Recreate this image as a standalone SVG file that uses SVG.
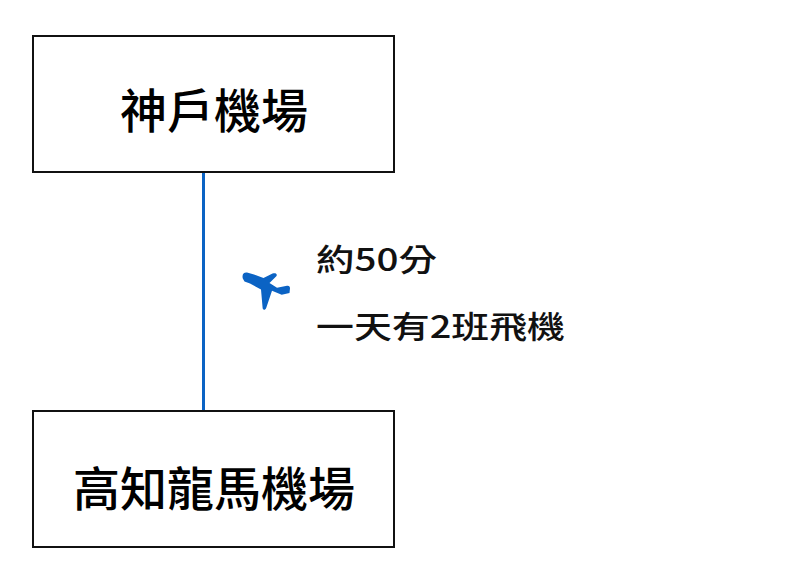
<svg xmlns="http://www.w3.org/2000/svg" width="800" height="584" viewBox="0 0 800 584">
<style>
.box{fill:#fff;stroke:#111;stroke-width:2}
.lbl{font-family:"Noto Sans CJK TC","Noto Sans CJK SC",sans-serif;font-size:47px;font-weight:500;fill:#000;text-anchor:middle}
.note{font-family:"Noto Sans CJK TC","Noto Sans CJK SC",sans-serif;font-size:31px;font-weight:500;fill:#111}
.conn{stroke:#0b63c4;stroke-width:3;fill:none}
</style>
<rect width="800" height="584" fill="#fff"/>
<g id="connectors">
<line class="conn" x1="203.5" y1="172" x2="203.5" y2="411"/>
</g>
<g id="node-kobe">
<rect class="box" x="33" y="36" width="361" height="136"/>
<text class="lbl" x="214" y="128">神戶機場</text>
</g>
<g id="node-kochi">
<rect class="box" x="33" y="411" width="361" height="136"/>
<text class="lbl" x="214" y="506">高知龍馬機場</text>
</g>
<g id="plane-icon">
<path fill="#0b63c4" d="M242.8,278.5 C241.8,274.5 243.5,272.3 247,272.6 L254,274.6 L263.5,278 L272.5,273.6 C275.5,272.5 277.8,274 276.3,276.3 L269.5,283 L277,287.8 L287,285.8 C289.5,285.4 290.3,287 289.9,289.3 L289.5,293 L281.7,294.8 L272,290.8 L266.2,308 C265.2,310.5 262.6,310.2 262.6,307.8 L261,289.6 L250,283.5 L244.5,281.5 Z"/>
</g>
<g id="notes">
<text class="note" x="316" y="271" textLength="121" lengthAdjust="spacingAndGlyphs">約50分</text>
<text class="note" x="316" y="338" textLength="249" lengthAdjust="spacingAndGlyphs">一天有2班飛機</text>
</g>
</svg>
